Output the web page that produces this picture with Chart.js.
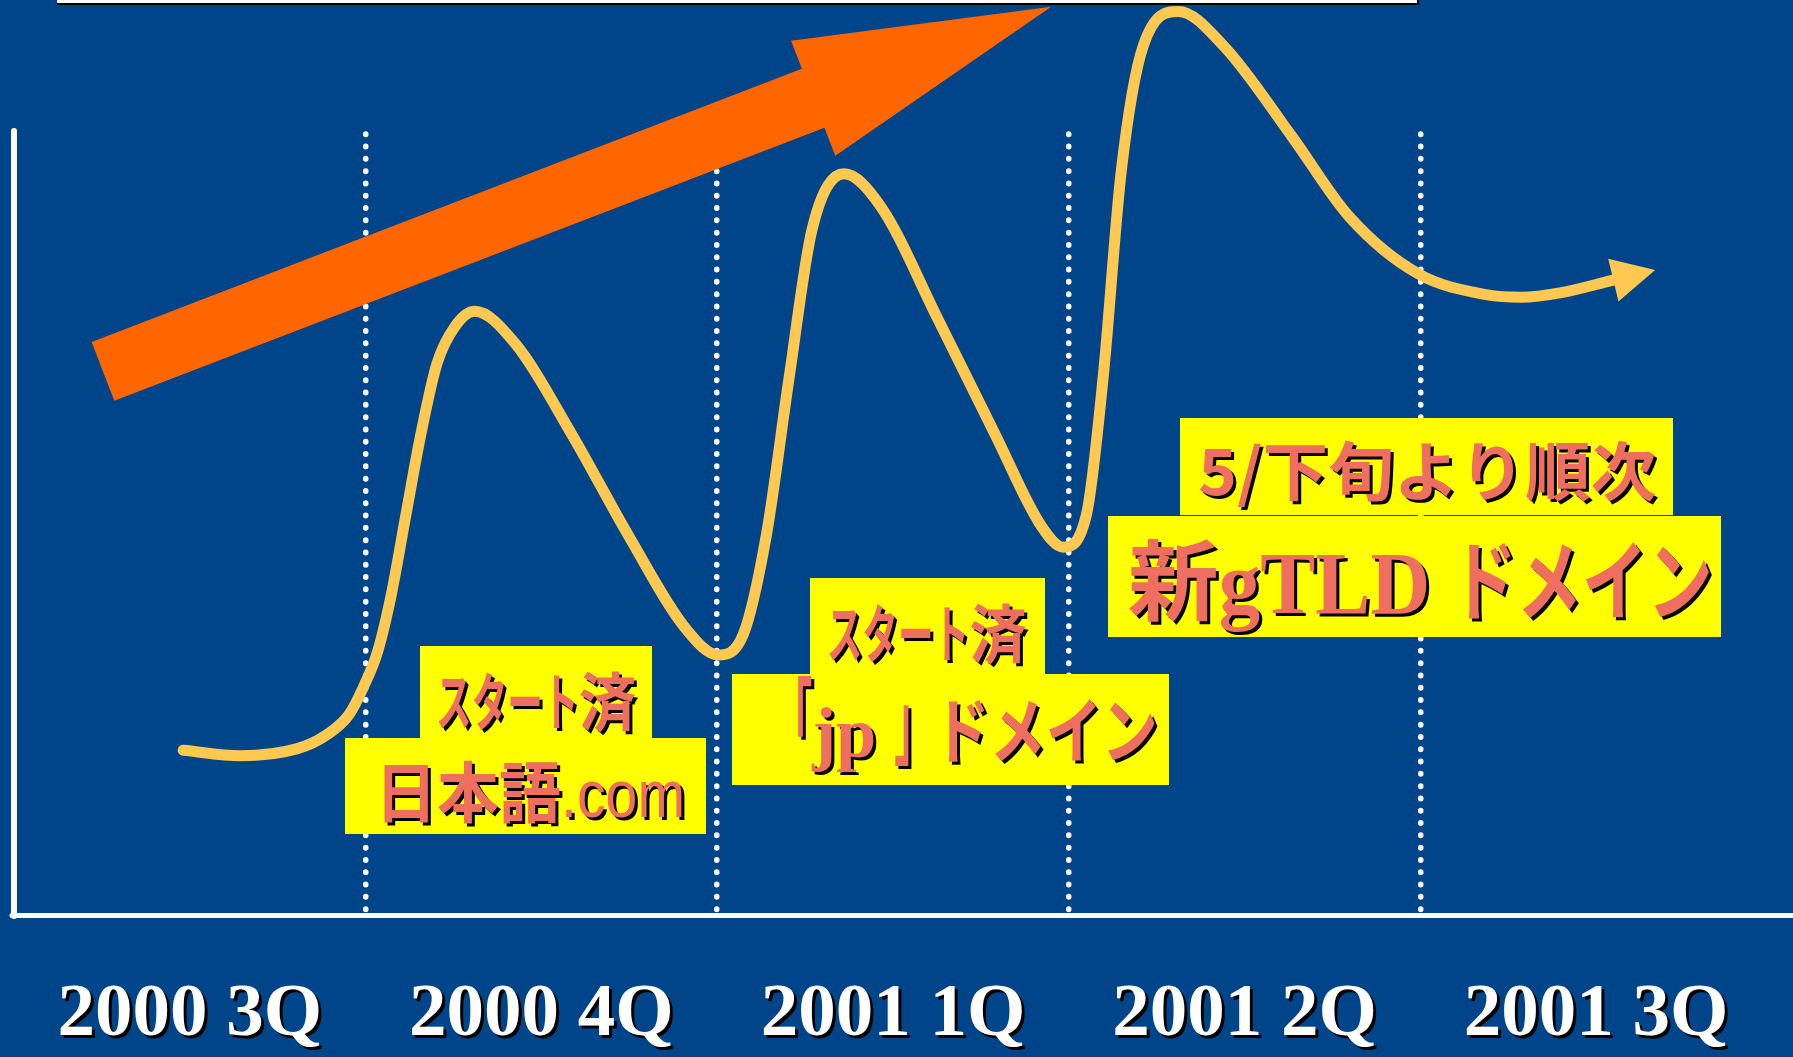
<!DOCTYPE html>
<html>
<head>
<meta charset="utf-8">
<script src="https://cdn.jsdelivr.net/npm/chart.js@4.4.1/dist/chart.umd.min.js"></script>
<style>
html, body { margin: 0; padding: 0; background: #00448A; overflow: hidden; }
#wrap { position: relative; width: 1793px; height: 1057px; }
canvas { position: absolute; left: 0; top: 0; }
#titlebox { position: absolute; left: 57px; top: -20px; width: 1360px; height: 23px; background: #fff; border-right: 2px solid #000; border-bottom: 2px solid #000; }
</style>
</head>
<body>
<div id="wrap">
  <canvas id="c" width="1793" height="1057"></canvas>
  <div id="titlebox"></div>
</div>
<script>
// ---- data ----
const quarterLabels = ['2000 3Q', '2000 4Q', '2001 1Q', '2001 2Q', '2001 3Q'];
const labelTicks = [0.5, 1.5, 2.5, 3.5, 4.5];
const dividerTicks = [1, 2, 3, 4];
const trendX = [0.481, 0.643, 0.806, 0.887, 0.952, 0.995, 1.034, 1.073, 1.115, 1.157, 1.203, 1.255, 1.310,
                1.425, 1.587, 1.750, 1.912, 2.003, 2.074, 2.139, 2.205, 2.270, 2.361, 2.464, 2.629, 2.791,
                2.922, 2.984, 3.050, 3.098, 3.149, 3.212, 3.312, 3.440, 3.636, 3.798, 3.994, 4.191, 4.287,
                4.401, 4.549];
const trendY = [21.1, 20.4, 21.3, 23.0, 25.6, 29.3, 33.7, 41.0, 51.3, 61.5, 70.6, 75.4, 77.3,
                73.2, 61.5, 48.4, 36.6, 33.3, 35.9, 48.4, 68.9, 87.8, 94.9, 90.8, 76.2, 61.5,
                49.8, 47.1, 51.2, 68.9, 95.1, 111.3, 115.7, 111.3, 99.6, 89.4, 82.1, 79.4, 79.1,
                79.7, 81.3];
const calloutSub = ['スタート済', 'スタート済', '5/下旬より順次'];
const calloutMain = ['日本語.com', '「jp 」ドメイン', '新gTLD ドメイン'];

// ---- layout / style (not data) ----
const growthArrow = { from: [0.253, 69.6], to: [2.950, 116.3], shaftHalf: 31.5, headLen: 255, headHalf: 61.6, color: '#FF6600' };
const calloutLayout = [
  { sub:  { x1: 1.155, x2: 1.815, y1: 34.4, y2: 22.7, cx: 1.485, base: 24.3, size: 63, w: 200, st: { kana: 0.62, kanji: 1, punct: 0.5, punctSize: 1, latin: 'sans', latinSx: 1 } },
    main: { x1: 0.942, x2: 1.969, y1: 22.7, y2: 10.4, cx: 1.468, base: 12.5, size: 66, w: 310, st: { kana: 0.62, kanji: 0.92, punct: 0.5, punctSize: 1, latin: 'sans', latinSx: 0.85 } } },
  { sub:  { x1: 2.265, x2: 2.933, y1: 43.1, y2: 30.9, cx: 2.596, base: 33.0, size: 63, w: 200, st: { kana: 0.62, kanji: 1, punct: 0.5, punctSize: 1, latin: 'sans', latinSx: 1 } },
    main: { x1: 2.043, x2: 3.286, y1: 30.9, y2: 16.6, cx: 2.706, base: 20.2, size: 72, w: 385, st: { kana: 0.78, kanji: 1, punct: 0.42, punctSize: 1.3, latin: 'serif', latinSx: 1 } } },
  { sub:  { x1: 3.317, x2: 4.720, y1: 63.6, y2: 51.2, cx: 4.020, base: 53.8, size: 64, w: 458, st: { kana: 1, kanji: 1, punct: 1, punctSize: 1, latin: 'cjk', latinSx: 1 } },
    main: { x1: 3.112, x2: 4.856, y1: 51.1, y2: 35.6, cx: 4.000, base: 38.7, size: 88, w: 585, st: { kana: 0.72, kanji: 1, punct: 1, punctSize: 1, latin: 'serif', latinSx: 0.91 } } }
];
const BOX_FILL = '#FFFF00';
const TEXT_FILL = '#EE6F60';
const CURVE_COLOR = '#FFC850';

function fontFor(kind, size) {
  if (kind === 'sans') return size + 'px "Liberation Sans"';
  if (kind === 'serif') return 'bold ' + size + 'px "Liberation Serif"';
  return 'bold ' + size + 'px "Noto Sans CJK JP"';
}
function classify(ch) {
  if (/[\u30A0-\u30FF]/.test(ch)) return 'kana';
  if (/[\u3000-\u303F\uFF00-\uFFEF]/.test(ch)) return 'punct';
  if (/[\u3040-\u309F\u4E00-\u9FFF]/.test(ch)) return 'kanji';
  return 'latin';
}
function splitRuns(text) {
  const runs = [];
  for (const ch of text) {
    const k = classify(ch);
    if (runs.length && runs[runs.length - 1].k === k) runs[runs.length - 1].t += ch;
    else runs.push({ k, t: ch });
  }
  return runs;
}
function drawRuns(ctx, text, cx, base, size, targetW, st) {
  const runs = splitRuns(text).map(r => {
    let font;
    if (r.k === 'latin') font = fontFor(st.latin, size);
    else if (r.k === 'punct') font = fontFor('cjk', Math.round(size * st.punctSize));
    else font = fontFor('cjk', size);
    const sx = r.k === 'latin' ? st.latinSx : st[r.k];
    ctx.font = font;
    return { t: r.t, font, sx, w: ctx.measureText(r.t).width * sx };
  });
  const natural = runs.reduce((a, r) => a + r.w, 0);
  const k = targetW / natural;
  let x = cx - targetW / 2;
  runs.forEach(r => {
    ctx.save();
    ctx.font = r.font;
    ctx.textBaseline = 'alphabetic';
    ctx.textAlign = 'left';
    ctx.translate(x, base);
    ctx.scale(r.sx * k, 1);
    ctx.fillText(r.t, 0, 0);
    ctx.restore();
    x += r.w * k;
  });
}

const decorPlugin = {
  id: 'decor',
  beforeDraw(chart) {
    chart.ctx.lineCap = 'round';
  },
  beforeDatasetsDraw(chart) {
    const { ctx, scales: { x, y } } = chart;
    const a = growthArrow;
    const sx = x.getPixelForValue(a.from[0]), sy = y.getPixelForValue(a.from[1]);
    const tx = x.getPixelForValue(a.to[0]), ty = y.getPixelForValue(a.to[1]);
    const dx = tx - sx, dy = ty - sy, L = Math.hypot(dx, dy);
    const ux = dx / L, uy = dy / L, nx = -uy, ny = ux;
    const bx = tx - ux * a.headLen, by = ty - uy * a.headLen;
    ctx.save();
    ctx.fillStyle = a.color;
    ctx.beginPath();
    ctx.moveTo(sx + nx * a.shaftHalf, sy + ny * a.shaftHalf);
    ctx.lineTo(bx + nx * a.shaftHalf, by + ny * a.shaftHalf);
    ctx.lineTo(bx + nx * a.headHalf, by + ny * a.headHalf);
    ctx.lineTo(tx, ty);
    ctx.lineTo(bx - nx * a.headHalf, by - ny * a.headHalf);
    ctx.lineTo(bx - nx * a.shaftHalf, by - ny * a.shaftHalf);
    ctx.lineTo(sx - nx * a.shaftHalf, sy - ny * a.shaftHalf);
    ctx.closePath();
    ctx.fill();
    ctx.restore();
  },
  afterDatasetsDraw(chart) {
    const { ctx, scales: { x, y } } = chart;
    // arrow head at end of the trend curve
    const pts = chart.getDatasetMeta(0).data;
    const last = pts[pts.length - 1];
    const prev = pts[pts.length - 2];
    const px = (last.cp1x !== undefined) ? last.cp1x : prev.x;
    const py = (last.cp1y !== undefined) ? last.cp1y : prev.y;
    const dx = last.x - px, dy = last.y - py;
    const L = Math.hypot(dx, dy) || 1;
    const ux = dx / L, uy = dy / L, nx = -uy, ny = ux;
    const headLen = 43, headHalf = 22;
    ctx.save();
    ctx.fillStyle = CURVE_COLOR;
    ctx.beginPath();
    ctx.moveTo(last.x + ux * headLen, last.y + uy * headLen);
    ctx.lineTo(last.x + nx * headHalf, last.y + ny * headHalf);
    ctx.lineTo(last.x - nx * headHalf, last.y - ny * headHalf);
    ctx.closePath();
    ctx.fill();
    ctx.restore();

    // callout boxes
    calloutLayout.forEach((c) => {
      ['sub', 'main'].forEach((key) => {
        const b = c[key];
        const x1 = Math.round(x.getPixelForValue(b.x1)), x2 = Math.round(x.getPixelForValue(b.x2));
        const y1 = Math.round(y.getPixelForValue(b.y1)), y2 = Math.round(y.getPixelForValue(b.y2));
        ctx.save();
        ctx.fillStyle = BOX_FILL;
        ctx.fillRect(x1, y1, x2 - x1, y2 - y1);
        ctx.restore();
      });
    });
    calloutLayout.forEach((c, i) => {
      [['sub', calloutSub[i]], ['main', calloutMain[i]]].forEach(([key, text]) => {
        const b = c[key];
        ctx.save();
        ctx.fillStyle = TEXT_FILL;
        ctx.shadowColor = '#000';
        ctx.shadowOffsetX = 3;
        ctx.shadowOffsetY = 3;
        ctx.shadowBlur = 0;
        drawRuns(ctx, text, x.getPixelForValue(b.cx), y.getPixelForValue(b.base), b.size, b.w, b.st);
        ctx.restore();
      });
    });
    // shadow for the axis tick labels drawn next (ticks.z = 1)
    ctx.shadowColor = '#000';
    ctx.shadowOffsetX = 3;
    ctx.shadowOffsetY = 3;
    ctx.shadowBlur = 0;
  },
  afterDraw(chart) {
    const ctx = chart.ctx;
    ctx.shadowColor = 'rgba(0,0,0,0)';
    ctx.shadowOffsetX = 0;
    ctx.shadowOffsetY = 0;
  }
};

new Chart(document.getElementById('c'), {
  type: 'line',
  data: {
    datasets: [{
      data: trendX.map((v, i) => ({ x: v, y: trendY[i] })),
      borderColor: CURVE_COLOR,
      borderWidth: 11,
      borderCapStyle: 'round',
      borderJoinStyle: 'round',
      pointRadius: 0,
      fill: false,
      cubicInterpolationMode: 'monotone',
      clip: false
    }]
  },
  options: {
    responsive: false,
    animation: false,
    devicePixelRatio: 1,
    events: [],
    layout: { padding: { left: 14, top: 134, right: 0, bottom: 0 } },
    plugins: { legend: { display: false }, tooltip: { enabled: false } },
    scales: {
      x: {
        type: 'linear',
        min: 0,
        max: 5.06,
        afterBuildTicks: s => { s.ticks = labelTicks.concat(dividerTicks).sort((a, b) => a - b).map(v => ({ value: v })); },
        afterFit: s => { s.height = 142; },
        ticks: {
          z: 1,
          autoSkip: false,
          maxRotation: 0,
          padding: 56,
          color: '#FFFFFF',
          font: { family: 'Liberation Serif', size: 75, weight: 'bold' },
          callback: v => (labelTicks.includes(v) ? quarterLabels[labelTicks.indexOf(v)] : '')
        },
        grid: {
          drawTicks: false,
          lineWidth: 5.5,
          color: c => (c.tick && dividerTicks.includes(c.tick.value) ? '#FFFFFF' : 'rgba(0,0,0,0)')
        },
        border: {
          display: true,
          color: '#FFFFFF',
          width: 5,
          dash: c => (c.type === 'tick' ? [0.5, 11.8] : [])
        }
      },
      y: {
        min: 0,
        max: 100,
        afterFit: s => { s.width = 0; },
        ticks: { display: false },
        grid: { display: false, drawTicks: false },
        border: { display: true, color: '#FFFFFF', width: 6 }
      }
    }
  },
  plugins: [decorPlugin]
});
</script>
</body>
</html>
